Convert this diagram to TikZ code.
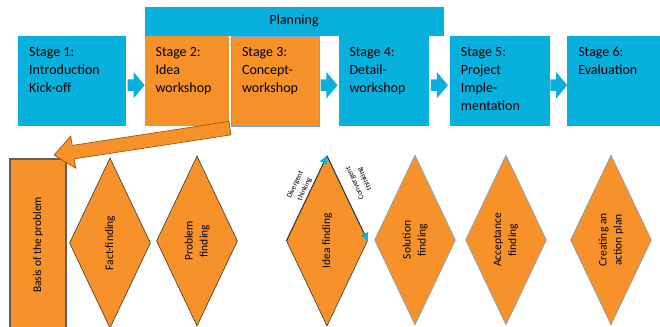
\documentclass[tikz,border=0pt]{standalone}
\usepackage{fontspec}
\setmainfont{Carlito}
\usetikzlibrary{shapes.geometric, shapes.arrows, arrows.meta, positioning}

\definecolor{stageblue}{RGB}{8,176,222}
\definecolor{stageorange}{RGB}{247,145,42}
\definecolor{edgeblue}{RGB}{110,165,215}
\definecolor{edgedark}{RGB}{55,55,55}
\definecolor{arrowedge}{RGB}{150,75,10}

% stage text: fixed-height box, text sits at the top
\newcommand{\stagetxt}[2]{\parbox[t][68pt][t]{#1}{\raggedright #2}}

\begin{document}
\begin{tikzpicture}[
    x=1pt, y=-1pt,
    font=\fontsize{14}{18}\selectfont,
    stage/.style={rectangle, fill=stageblue, inner xsep=11pt, inner ysep=11pt, anchor=north west},
    ostage/.style={stage, fill=stageorange},
    planbar/.style={rectangle, fill=stageblue, minimum width=299pt, minimum height=29pt, inner sep=0pt},
    flow/.style={single arrow, fill=stageblue, minimum height=17pt, inner sep=0pt, inner ysep=5.5pt, single arrow head extend=7.5pt, single arrow tip angle=100},
    backarrow/.style={single arrow, fill=stageorange, draw=arrowedge, line width=0.6pt, minimum height=178pt, inner sep=0pt, inner ysep=6.5pt, single arrow head extend=9.5pt, single arrow tip angle=80},
    basisbox/.style={rectangle, fill=stageorange, draw=edgedark!80, line width=1.6pt, rotate=90, minimum width=172pt, minimum height=56pt, font=\fontsize{11.5}{15}\selectfont},
    finding/.style={diamond, fill=stageorange, draw=edgedark, line width=0.6pt, rotate=90, minimum width=170pt, minimum height=81pt, inner sep=0pt, align=center, font=\fontsize{11.5}{15}\selectfont},
    bfinding/.style={finding, draw=edgeblue},
    think/.style={draw=edgedark, line width=0.8pt, -{Triangle[length=8pt, width=8pt, color=stageblue]}},
    thinklabel/.style={align=center, inner sep=0pt, font=\fontsize{7.5}{10.5}\selectfont}
]

\useasboundingbox (0,0) rectangle (660,326);
\fill[white] (0,0) rectangle (660,326);
\clip (0,0) rectangle (660,326);

% Stages (top row)
\node (s1) [stage] at (18,36) {\stagetxt{86pt}{Stage 1:\\Introduction\\Kick-off}};
\node (s2) [ostage, right=18pt of s1] {\stagetxt{62pt}{Stage 2:\\Idea\\workshop}};
\node (s3) [ostage, draw=edgeblue, line width=0.5pt, right=2pt of s2] {\stagetxt{66pt}{Stage 3:\\Concept-\\workshop}};
\node (s4) [stage, right=19pt of s3] {\stagetxt{68pt}{Stage 4:\\Detail-\\workshop}};
\node (s5) [stage, right=21pt of s4] {\stagetxt{78pt}{Stage 5:\\Project\\Imple-\\mentation}};
\node (s6) [stage, right=17pt of s5] {\stagetxt{88pt}{Stage 6:\\Evaluation}};

\node (plan) [planbar, anchor=south west] at (s2.north west) {Planning};

% Block arrows between stages
\node (a12) [flow, right=1pt of s1, yshift=-4pt] {};
\node (a34) [flow, right=1pt of s3, yshift=-4pt] {};
\node (a45) [flow, right=2pt of s4, yshift=-4pt] {};
\node (a56) [flow, right=0pt of s5, yshift=-4pt] {};

% Creative problem solving steps (bottom row)
\node (basis) [basisbox] at (38,245) {Basis of the problem};
\node (fact) [finding] at (110,243) {Fact-finding};
\node (problem) [finding] at (197,241) {Problem\\finding};
\node (idea) [finding] at (327,241) {Idea finding};
\node (solution) [bfinding] at (415,240) {Solution\\finding};
\node (accept) [bfinding] at (506,240) {Acceptance\\finding};
\node (plan2) [bfinding] at (611,240) {Creating an\\action plan};

% Back to the basis
\node (back) [backarrow, rotate=188.7] at (146,141) {};

% Divergent / convergent edges of idea finding
\draw [think] (idea.north) -- (idea.east);
\draw [think] (idea.east) -- (idea.south);
\node (div) [thinklabel, rotate=65] at (300,187) {Divergent\\thinking};
\node (conv) [thinklabel, rotate=115] at (360,181) {Convergent\\thinking};

\end{tikzpicture}
\end{document}
